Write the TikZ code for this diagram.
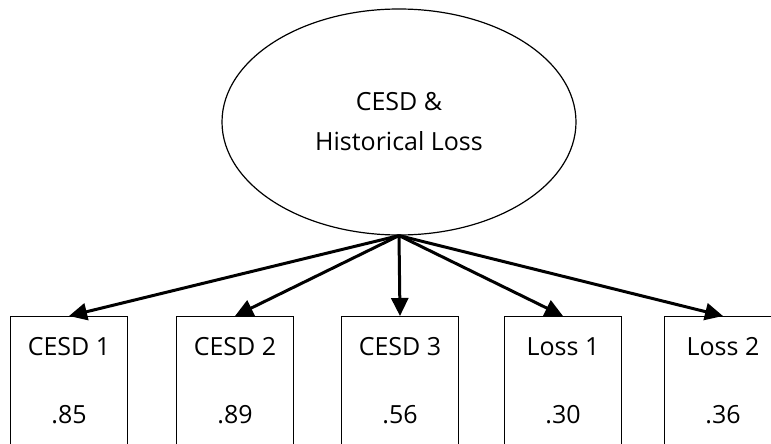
\documentclass[tikz,border=0pt]{standalone}
\usepackage{fontspec}
\setmainfont{Open Sans}
\usetikzlibrary{shapes,arrows.meta}

\begin{document}
\begin{tikzpicture}[x=1pt,y=-1pt,
  latent/.style={draw,ellipse,line width=1.2pt,minimum width=354pt,minimum height=226pt,align=center,font=\fontsize{25}{40}\selectfont},
  ind/.style={draw,rectangle,line width=1.2pt,minimum width=117pt,inner ysep=0pt,anchor=north,align=center,font=\fontsize{25}{68}\selectfont},
  >={Triangle[length=18pt,width=17pt]}]

  \clip (0,0) rectangle (771,444);

  \node[latent] (lv) at (399,122) {CESD \&\\Historical Loss};

  \node[ind] (m1) at (69,316) {\rule{0pt}{39pt}CESD 1\\.85\rule[-60pt]{0pt}{60pt}};
  \node[ind] (m2) at (235,316) {\rule{0pt}{39pt}CESD 2\\.89\rule[-60pt]{0pt}{60pt}};
  \node[ind] (m3) at (400,316) {\rule{0pt}{39pt}CESD 3\\.56\rule[-60pt]{0pt}{60pt}};
  \node[ind] (m4) at (563,316) {\rule{0pt}{39pt}Loss 1\\.30\rule[-60pt]{0pt}{60pt}};
  \node[ind] (m5) at (723,316) {\rule{0pt}{39pt}Loss 2\\.36\rule[-60pt]{0pt}{60pt}};

  \draw [->,line width=3pt] (lv.south) -- (m1.north);
  \draw [->,line width=3pt] (lv.south) -- (m2.north);
  \draw [->,line width=3pt] (lv.south) -- (m3.north);
  \draw [->,line width=3pt] (lv.south) -- (m4.north);
  \draw [->,line width=3pt] (lv.south) -- (m5.north);

\end{tikzpicture}
\end{document}
